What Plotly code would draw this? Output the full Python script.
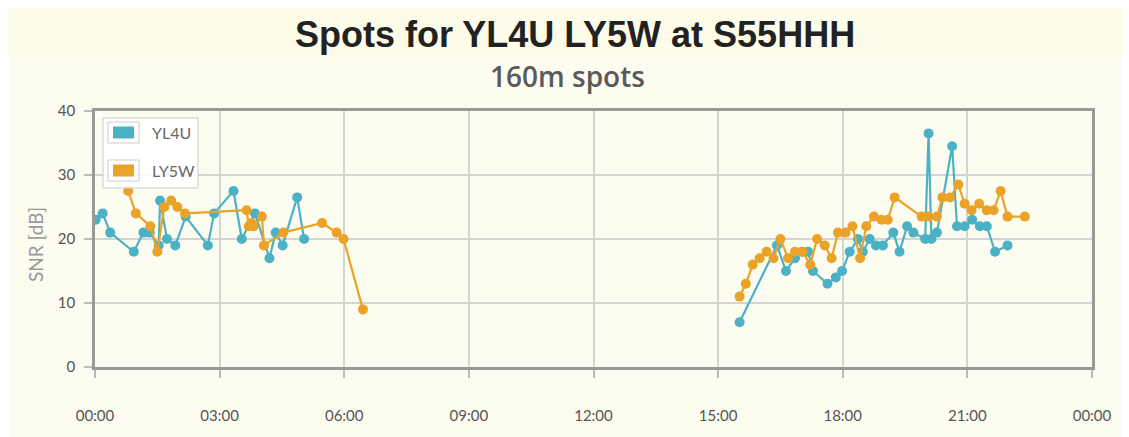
import plotly.graph_objects as go
import pandas as pd

# ---------------- data ----------------
DAY = "2000-01-01 "

yl4u_am_times = ["00:01", "00:11", "00:22", "00:56", "01:10", "01:19", "01:32", "01:34", "01:44",
                 "01:56", "02:11", "02:43", "02:52", "03:20", "03:32", "03:51", "04:12", "04:21",
                 "04:31", "04:52", "05:02"]
yl4u_am_snr = [23, 24, 21, 18, 21, 21, 19, 26, 20, 19, 23.5, 19, 24, 27.5, 20, 24, 17, 21, 19, 26.5, 20]

yl4u_pm_times = ["15:31", "16:25", "16:38", "16:51", "17:01", "17:10", "17:17", "17:38", "17:50",
                 "17:59", "18:10", "18:22", "18:29", "18:39", "18:48", "18:58", "19:13", "19:22",
                 "19:33", "19:42", "19:59", "20:04", "20:08", "20:16", "20:38", "20:45", "20:56",
                 "21:07", "21:18", "21:28", "21:40", "21:58"]
yl4u_pm_snr = [7, 19, 15, 17, 18, 18, 15, 13, 14, 15, 18, 20, 18, 20, 19, 19, 21, 18, 22, 21,
               20, 36.5, 20, 21, 34.5, 22, 22, 23, 22, 22, 18, 19]

ly5w_am_times = ["00:48", "00:59", "01:20", "01:30", "01:40", "01:50", "01:59", "02:10", "03:39",
                 "03:42", "03:46", "03:49", "04:01", "04:04", "04:32", "05:28", "05:49", "05:59",
                 "06:27"]
ly5w_am_snr = [27.5, 24, 22, 18, 25, 26, 25, 24, 24.5, 22, 22.5, 22, 23.5, 19, 21, 22.5, 21, 20, 9]

ly5w_pm_times = ["15:31", "15:40", "15:50", "16:00", "16:10", "16:20", "16:30", "16:41", "16:51",
                 "17:02", "17:13", "17:23", "17:34", "17:44", "17:53", "18:04", "18:14", "18:25",
                 "18:34", "18:45", "18:56", "19:05", "19:15", "19:54", "20:04", "20:16", "20:24",
                 "20:35", "20:47", "20:56", "21:06", "21:17", "21:28", "21:38", "21:48", "21:58",
                 "22:23"]
ly5w_pm_snr = [11, 13, 16, 17, 18, 17, 20, 17, 18, 18, 16, 20, 19, 17, 21, 21, 22, 17, 22, 23.5,
               23, 23, 26.5, 23.5, 23.5, 23.5, 26.5, 26.5, 28.5, 25.5, 24.5, 25.5, 24.5, 24.5,
               27.5, 23.5, 23.5]

series_names = ["YL4U", "LY5W"]
series_colors = ["#4bb2c5", "#EAA228"]

x_ticks = ["00:00", "03:00", "06:00", "09:00", "12:00", "15:00", "18:00", "21:00", "00:00"]
y_ticks = [0, 10, 20, 30, 40]


def to_dt(times):
    return list(pd.to_datetime([DAY + t for t in times]))


def joined(am_t, am_v, pm_t, pm_v):
    # break the line between the two sessions
    return to_dt(am_t) + [None] + to_dt(pm_t), list(am_v) + [None] + list(pm_v)


# ---------------- layout constants ----------------
OFF = 8  # page body margin
W, H = 1129 - OFF, 437 - OFF
L, R, T, B = 95 - OFF, 37, 111 - OFF, 70
PW, PH = W - L - R, H - T - B
FONT = "Lato"
BG = "#fcfcf0"
PLOT_BG = "#fffdf6"


def px(x):
    # reference-screen x -> paper coordinate
    return (x - OFF - L) / PW


def py(y):
    # reference-screen y -> paper coordinate
    return (H - B - (y - OFF)) / PH


fig = go.Figure()

data = [
    joined(yl4u_am_times, yl4u_am_snr, yl4u_pm_times, yl4u_pm_snr),
    joined(ly5w_am_times, ly5w_am_snr, ly5w_pm_times, ly5w_pm_snr),
]
for (xs, ys), name, col in zip(data, series_names, series_colors):
    fig.add_trace(go.Scatter(
        x=xs, y=ys, name=name, mode="lines+markers", connectgaps=False,
        line=dict(color=col, width=2.2),
        marker=dict(color=col, size=10),
        showlegend=False, cliponaxis=True,
    ))

tickvals = list(pd.date_range(DAY + "00:00", periods=len(x_ticks), freq="3h"))

fig.update_xaxes(
    type="date", range=[tickvals[0], tickvals[-1]],
    tickvals=tickvals, ticktext=x_ticks,
    showgrid=True, gridcolor="#d4d4d4", gridwidth=1.5,
    showline=True, linecolor="#999999", linewidth=2.5, mirror=True,
    ticks="outside", ticklen=8, tickcolor="#bbbbbb", tickwidth=1.5,
    ticklabelstandoff=25,
    tickfont=dict(family=FONT, size=15, color="#555555"),
    zeroline=False,
)
fig.update_yaxes(
    range=[0, 40], tickvals=y_ticks,
    showgrid=True, gridcolor="#d4d4d4", gridwidth=1.5,
    showline=True, linecolor="#999999", linewidth=2.5, mirror=True,
    ticks="outside", ticklen=8, tickcolor="#bbbbbb", tickwidth=1.5,
    ticklabelstandoff=6,
    tickfont=dict(family=FONT, size=15, color="#555555"),
    zeroline=False,
)

shapes = [
    # title band and page background
    dict(type="rect", xref="paper", yref="paper", x0=px(0), x1=px(1129), y0=py(8), y1=py(57),
         fillcolor="#fcfce9", line_width=0, layer="below"),
    dict(type="rect", xref="paper", yref="paper", x0=px(10), x1=px(1129), y0=py(57), y1=py(437),
         fillcolor=BG, line_width=0, layer="below"),
    # legend box
    dict(type="rect", xref="paper", yref="paper", x0=px(103), x1=px(198), y0=py(118), y1=py(188),
         fillcolor="rgba(255,255,255,0.85)", line=dict(color="#cccccc", width=1)),
]
annotations = [
    dict(text="<b>Spots for YL4U LY5W at S55HHH</b>", xref="paper", yref="paper",
         x=px(575), y=py(34), xanchor="center", yanchor="middle", showarrow=False,
         font=dict(family="Liberation Sans", size=36, color="#222222")),
    dict(text="160m spots", xref="paper", yref="paper",
         x=px(567), y=py(76), xanchor="center", yanchor="middle", showarrow=False,
         font=dict(family="Open Sans", size=28, color="#5a5a5a", weight=600)),
    dict(text="SNR [dB]", xref="paper", yref="paper", textangle=-90,
         x=px(35), y=py(245), xanchor="center", yanchor="middle", showarrow=False,
         font=dict(family=FONT, size=19, color="#999999")),
]
for i, (name, col) in enumerate(zip(series_names, series_colors)):
    top = 122 + i * 38
    shapes.append(dict(type="rect", xref="paper", yref="paper",
                       x0=px(108), x1=px(139), y0=py(top), y1=py(top + 21),
                       fillcolor="rgba(0,0,0,0)", line=dict(color="#cccccc", width=1)))
    shapes.append(dict(type="rect", xref="paper", yref="paper",
                       x0=px(113), x1=px(134), y0=py(top + 4.5), y1=py(top + 16.5),
                       fillcolor=col, line_width=0))
    annotations.append(dict(text=name, xref="paper", yref="paper",
                            x=px(150), y=py(top + 10.5), xanchor="left", yanchor="middle",
                            showarrow=False,
                            font=dict(family=FONT, size=16, color="#666666")))

fig.update_layout(
    width=W, height=H, autosize=False,
    margin=dict(l=L, r=R, t=T, b=B),
    paper_bgcolor="#ffffff", plot_bgcolor=PLOT_BG,
    shapes=shapes, annotations=annotations,
    showlegend=False,
)

fig.write_html("out.html")
